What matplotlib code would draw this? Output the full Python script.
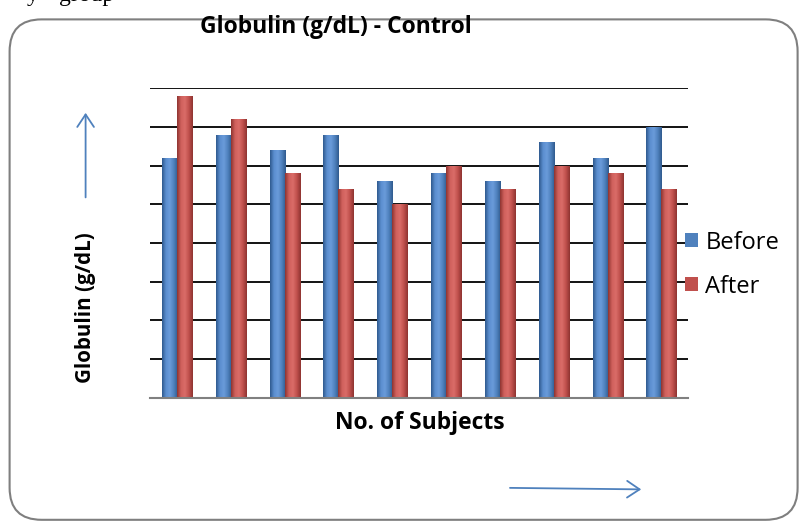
import matplotlib
matplotlib.use("Agg")
import matplotlib.pyplot as plt
import numpy as np
from matplotlib.patches import FancyBboxPatch, FancyArrowPatch
from matplotlib.colors import LinearSegmentedColormap

subjects = list(range(1, 11))
before = [3.1, 3.4, 3.2, 3.4, 2.8, 2.9, 2.8, 3.3, 3.1, 3.5]
after = [3.9, 3.6, 2.9, 2.7, 2.5, 3.0, 2.7, 3.0, 2.9, 2.7]
y_ticks = [0, 0.5, 1.0, 1.5, 2.0, 2.5, 3.0, 3.5, 4.0]

fig = plt.figure(figsize=(8, 5.24), dpi=100)
font = "Open Sans"

# rounded frame
frame = FancyBboxPatch((0.012, 0.008), 0.985, 0.955, boxstyle="round,pad=0,rounding_size=0.04",
                       transform=fig.transFigure, facecolor="none", edgecolor="#7f7f7f",
                       linewidth=1.5, mutation_aspect=800/524, zorder=-1)
fig.patches.append(frame)

# clipped caption text at very top (only descenders visible, as in the reference)
fig.text(0.033, 0.999, "y", fontsize=17, family="Liberation Serif", va="baseline", ha="left")
fig.text(0.074, 0.999, "group", fontsize=17, family="Liberation Serif", va="baseline", ha="left")

ax = fig.add_axes([0.1875, 0.2405, 0.673, 0.5915])
ax.set_facecolor("none")
x = np.arange(len(subjects))
w = 0.28
b1 = ax.bar(x - w/2, before, width=w, color="#4F81BD", linewidth=0, label="Before", zorder=3)
b2 = ax.bar(x + w/2, after, width=w, color="#C0504D", linewidth=0, label="After", zorder=3)

cm_blue = LinearSegmentedColormap.from_list("b", ["#2F5A8E", "#5B8ED0", "#6A9BDA", "#4F81BD", "#2F5A8E"])
cm_red = LinearSegmentedColormap.from_list("r", ["#8E3431", "#D0605C", "#DA6C68", "#C0504D", "#8E3431"])
grad = np.linspace(0, 1, 64).reshape(1, -1)
for bars, cm in ((b1, cm_blue), (b2, cm_red)):
    for p in bars:
        x0, y0 = p.get_x(), p.get_y()
        im = ax.imshow(grad, cmap=cm, aspect="auto", extent=(x0, x0 + p.get_width(), y0, y0 + p.get_height()),
                       zorder=3.5, interpolation="bilinear")
        im.set_clip_path(p)

ax.set_xlim(-0.5, len(subjects) - 0.5)
ax.set_ylim(0, 4.0)
ax.set_yticks(y_ticks)
ax.yaxis.grid(True, color="black", linewidth=1.3, zorder=0)
ax.tick_params(axis="both", length=0, labelleft=False, labelbottom=False)
for s in ["top", "right", "left"]:
    ax.spines[s].set_visible(False)
ax.spines["bottom"].set_color("#808080")
ax.spines["bottom"].set_linewidth(1.5)
ax.spines["bottom"].set_zorder(4)

fig.text(0.42, 0.948, "Globulin (g/dL) - Control", fontsize=16.5, fontweight="bold", family=font,
         ha="center", va="center")
fig.text(0.525, 0.193, "No. of Subjects", fontsize=16.5, fontweight="bold", family=font,
         ha="center", va="center")
fig.text(0.107, 0.412, "Globulin (g/dL)", fontsize=14.8, fontweight="bold", family=font,
         ha="center", va="center", rotation=90)

leg = ax.legend(loc="center left", bbox_to_anchor=(0.955, 0.43), frameon=False,
                prop={"family": font, "size": 17}, handlelength=0.55, handleheight=0.55,
                handletextpad=0.3, labelspacing=0.85)

# arrows
fig.patches.append(FancyArrowPatch((0.107, 0.618), (0.107, 0.79), transform=fig.transFigure,
                                   arrowstyle="->,head_length=6,head_width=4", color="#4F81BD",
                                   linewidth=1.3, mutation_scale=1.5))
fig.patches.append(FancyArrowPatch((0.634, 0.069), (0.805, 0.066), transform=fig.transFigure,
                                   arrowstyle="->,head_length=6,head_width=4", color="#4F81BD",
                                   linewidth=1.3, mutation_scale=1.5))

fig.savefig("out.png", dpi=100)
